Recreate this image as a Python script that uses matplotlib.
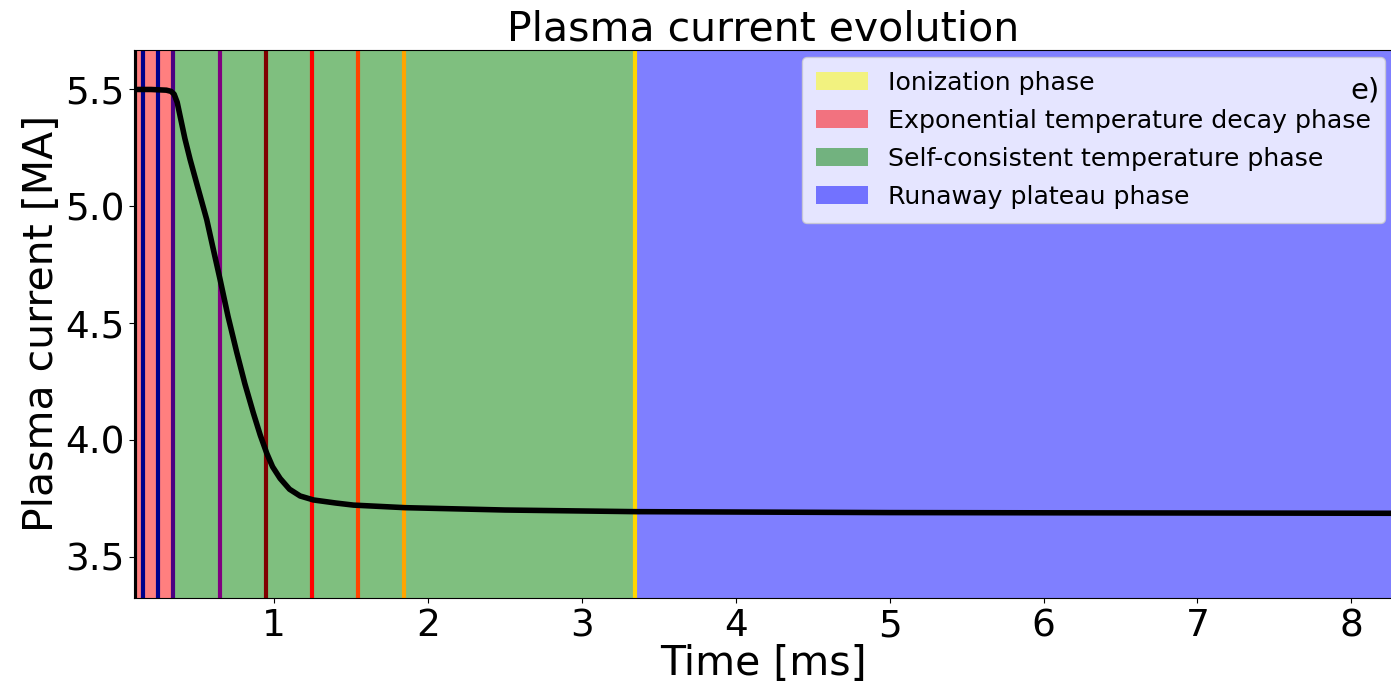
import numpy as np
import matplotlib
matplotlib.use("Agg")
import matplotlib.pyplot as plt

# plasma current trace
time_ms = [0.09, 0.20, 0.30, 0.33, 0.35, 0.37, 0.389, 0.42, 0.454, 0.50, 0.562,
           0.60, 0.649, 0.70, 0.757, 0.81, 0.865, 0.91, 0.952, 0.99, 1.039,
           1.10, 1.169, 1.256, 1.40, 1.516, 1.852, 2.50, 3.348, 5.00, 8.30]
current_MA = [5.500, 5.500, 5.497, 5.492, 5.480, 5.445, 5.386, 5.29, 5.200, 5.09, 4.943,
              4.83, 4.686, 4.53, 4.375, 4.24, 4.115, 4.02, 3.943, 3.885, 3.835,
              3.789, 3.760, 3.743, 3.73, 3.721, 3.710, 3.700, 3.693, 3.689, 3.686]

# phase boundaries [ms]
phase_names = ["Ionization phase", "Exponential temperature decay phase",
               "Self-consistent temperature phase", "Runaway plateau phase"]
phase_colors = ["yellow", "red", "green", "blue"]
phase_edges = [0.0, 0.089, 0.35, 3.35, 8.30]

# marker times (vertical lines)
mark_times = [0.096, 0.15, 0.247, 0.345, 0.645, 0.946, 1.248, 1.545, 1.847, 3.342]
mark_colors = ["black", "darkblue", "darkblue", "indigo", "purple", "maroon",
               "red", "orangered", "orange", "gold"]

fig = plt.figure(figsize=(13.91, 6.86), dpi=100)
ax = fig.add_axes([0.0963, 0.1278, 0.905, 0.80])

for i in range(len(phase_names)):
    ax.axvspan(phase_edges[i], phase_edges[i + 1], color=phase_colors[i],
               alpha=0.5, lw=0, label=phase_names[i])

for t, c in zip(mark_times, mark_colors):
    ax.axvline(t, color=c, lw=3)

ax.plot(time_ms, current_MA, color="black", lw=4)

ax.set_xlim(0.089, 8.27)
ax.set_ylim(3.322, 5.671)
ax.set_xticks([1, 2, 3, 4, 5, 6, 7, 8])
ax.set_yticks([3.5, 4.0, 4.5, 5.0, 5.5])
ax.tick_params(labelsize=27)
ax.set_xlabel("Time [ms]", fontsize=29.5, labelpad=0)
ax.set_ylabel("Plasma current [MA]", fontsize=29.5, labelpad=2)
ax.set_title("Plasma current evolution", fontsize=29.5, pad=3)

leg = ax.legend(loc="upper right", fontsize=18.2, handlelength=2.05,
                borderaxespad=0.3, borderpad=0.55, labelspacing=0.55)
ax.text(0.978, 0.925, "e)", transform=ax.transAxes, fontsize=21,
        ha="center", va="center", zorder=10)

fig.savefig("out.png", dpi=100)
